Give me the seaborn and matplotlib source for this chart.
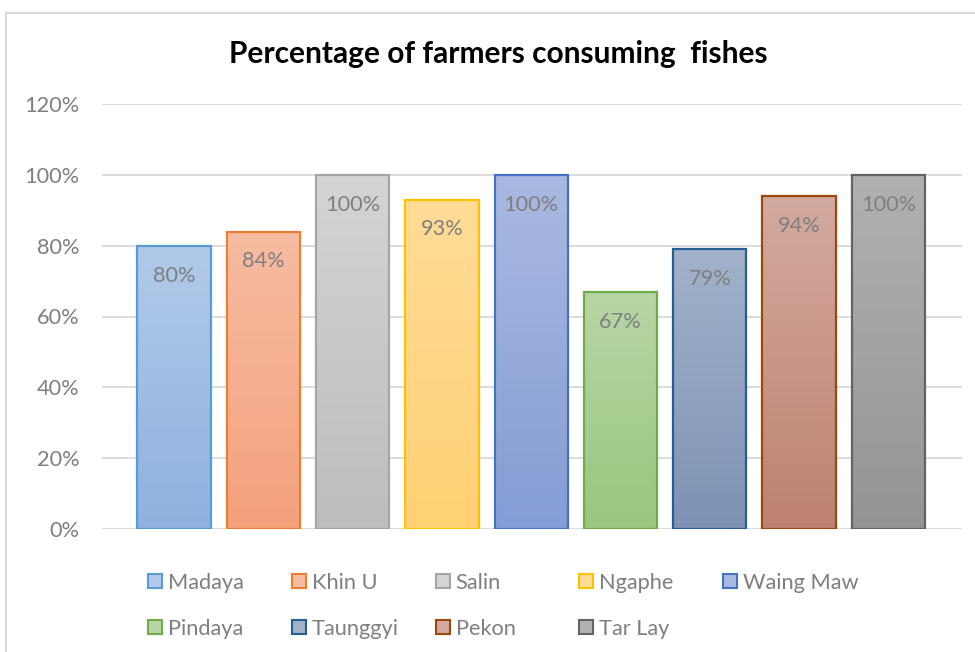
import numpy as np
import pandas as pd
import seaborn as sns
import matplotlib
matplotlib.use("Agg")
import matplotlib.pyplot as plt
from matplotlib.colors import LinearSegmentedColormap
from matplotlib.patches import Rectangle
from matplotlib.lines import Line2D
from matplotlib.ticker import PercentFormatter

# Share of farmers consuming fish, by township
districts = ["Madaya", "Khin U", "Salin", "Ngaphe", "Waing Maw",
             "Pindaya", "Taunggyi", "Pekon", "Tar Lay"]
values = [0.80, 0.84, 1.00, 0.93, 1.00, 0.67, 0.79, 0.94, 1.00]
y_ticks = [0.0, 0.2, 0.4, 0.6, 0.8, 1.0, 1.2]
title = "Percentage of farmers consuming  fishes"

# Per-series styling: outline colour and a light-to-dark vertical gradient fill
edge_colors = ["#5b9bd5", "#ed7d31", "#a5a5a5", "#ffc000", "#4472c4",
               "#70ad47", "#255e91", "#9e480e", "#636363"]
top_colors = ["#b1cae9", "#f7bca2", "#d4d4d4", "#ffdc97", "#aab9e1",
              "#b7d6a5", "#a2b2ca", "#d3aa9f", "#b1b1b1"]
bottom_colors = ["#8eb1df", "#f4a17c", "#bdbdbd", "#ffd175", "#849dd5",
                 "#9ac680", "#7d92b4", "#be8271", "#949494"]

sns.set_theme(style="white")
plt.rcParams["font.family"] = ["Lato", "DejaVu Sans"]

W, H = 975, 652
TXT = 15.7
fig = plt.figure(figsize=(W / 100, H / 100), dpi=100)
ax = fig.add_axes([102 / W, 1 - 529 / H, 860 / W, 425 / H])

df = pd.DataFrame({"district": districts, "share": values})
sns.barplot(data=df, x="district", y="share", hue="district",
            palette=dict(zip(districts, bottom_colors)), saturation=1,
            width=0.82, legend=False, ax=ax)

# Replace flat fills with gradients clipped to each bar
grad = np.linspace(0, 1, 256).reshape(-1, 1)
for patch, top, bot, ec, v in zip(ax.patches, top_colors, bottom_colors,
                                   edge_colors, values):
    x0, y0 = patch.get_x(), patch.get_y()
    w, h = patch.get_width(), patch.get_height()
    cmap = LinearSegmentedColormap.from_list("bar", [top, bot])
    im = ax.imshow(grad, cmap=cmap, extent=[x0, x0 + w, y0, y0 + h],
                   origin="upper", aspect="auto", zorder=1.5)
    im.set_clip_path(patch)
    patch.set_facecolor("none")
    patch.set_edgecolor(ec)
    patch.set_linewidth(1.6)
    patch.set_zorder(2)
    ax.annotate(f"{v:.0%}", xy=(x0 + w / 2, v), xytext=(0, -21.5),
                textcoords="offset points", ha="center", va="center",
                fontsize=TXT, color="#7f7f7f", zorder=3)

ax.set_xlim(-0.806, 8.824)
ax.set_ylim(0, 1.2)
ax.set_yticks(y_ticks)
ax.yaxis.set_major_formatter(PercentFormatter(1.0, decimals=0))
ax.set_xticks([])
ax.set_xlabel("")
ax.set_ylabel("")
ax.set_axisbelow(True)
ax.yaxis.grid(True, color="#d9d9d9", linewidth=1.3)
ax.tick_params(axis="y", length=0, pad=16, labelsize=TXT, labelcolor="#7f7f7f")
for s in ax.spines.values():
    s.set_visible(False)

fig.text(498 / W, 1 - 54 / H, title, ha="center", va="center",
         fontsize=21.5, fontweight="bold", color="black")

# Legend laid out on a uniform grid of five columns
for i, (name, top, bot, ec) in enumerate(zip(districts, top_colors,
                                               bottom_colors, edge_colors)):
    row, col = divmod(i, 5)
    xm = 148 + 143.75 * col
    yc = 581 + 46 * row
    fig.add_artist(Rectangle((xm / W, 1 - (yc + 7) / H), 14 / W, 14 / H,
                             transform=fig.transFigure, facecolor=top,
                             edgecolor=ec, linewidth=1.5))
    fig.text((xm + 20) / W, 1 - (yc + 2) / H, name, ha="left", va="center",
             fontsize=TXT, color="#7f7f7f")

# Chart-area frame
frame = dict(color="#d9d9d9", linewidth=1.5, transform=fig.transFigure)
fig.add_artist(Line2D([6 / W, 6 / W], [0, 1 - 13 / H], **frame))
fig.add_artist(Line2D([6 / W, 1], [1 - 13 / H, 1 - 13 / H], **frame))

fig.savefig("out.png", dpi=100)
